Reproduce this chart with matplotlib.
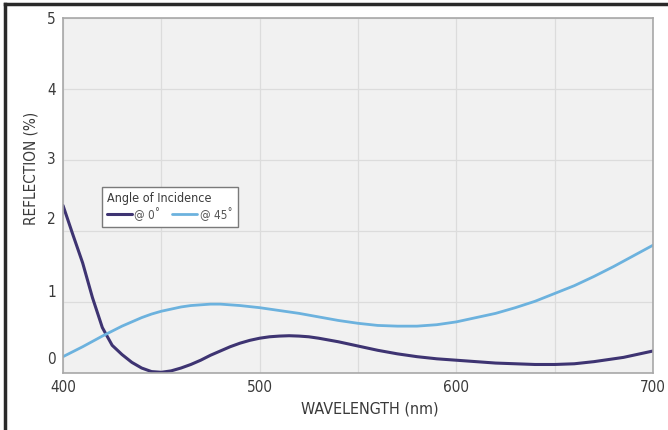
import numpy as np
import matplotlib
matplotlib.use("Agg")
import matplotlib.pyplot as plt
from matplotlib.lines import Line2D
import matplotlib.transforms as mtrans

wl=list(range(400,701,5))

r0=[2.36,1.95,1.55,1.06,0.64,0.39,0.26,0.15,0.07,0.02,
    0.01,0.03,0.07,0.12,0.18,0.25,0.31,0.37,0.42,0.46,
    0.49,0.51,0.52,0.525,0.52,0.51,0.49,0.465,0.44,0.41,
    0.38,0.35,0.32,0.295,0.27,0.25,0.23,0.215,0.20,0.19,
    0.18,0.17,0.16,0.15,0.14,0.135,0.13,0.125,0.12,0.12,
    0.12,0.125,0.13,0.145,0.16,0.18,0.20,0.22,0.25,0.28,0.31]
r45=[0.23,0.30,0.37,0.445,0.52,0.59,0.66,0.72,0.78,0.83,
     0.87,0.90,0.93,0.95,0.96,0.97,0.97,0.96,0.95,0.935,
     0.92,0.90,0.88,0.86,0.84,0.815,0.79,0.765,0.74,0.72,
     0.70,0.685,0.67,0.665,0.66,0.66,0.66,0.67,0.68,0.70,
     0.72,0.75,0.78,0.81,0.84,0.88,0.92,0.965,1.01,1.065,
     1.12,1.175,1.23,1.295,1.36,1.43,1.50,1.575,1.65,1.725,1.80]

xticks=[400,500,600,700]
yticks=[0,1,2,3,4,5]

plt.rcParams['font.family']=['DejaVu Sans']
plt.rcParams['font.stretch']='condensed'
txt="#3a3a3a"

fig=plt.figure(figsize=(6.68,4.3),dpi=100)
ax=fig.add_axes([63/668,1-373/430,590/668,355/430])
ax.set_facecolor("#f1f1f1")

ax.plot(wl,r0,color="#3e3472",lw=2.2,label="@ 0˚",solid_capstyle="round")
ax.plot(wl,r45,color="#6cb2de",lw=2,label="@ 45˚",solid_capstyle="round")

ax.set_xlim(400,700)
ax.set_ylim(0,5)
ax.set_xticks(xticks)
ax.set_yticks(yticks)
# minor grid at the half steps
ax.set_xticks([450,550,650],minor=True)
ax.grid(True,which="both",color="#dcdcdc",lw=0.9)
ax.set_axisbelow(True)
ax.tick_params(which="both",length=0,labelsize=11,colors=txt,pad=5)

# the low y labels sit a bit above their grid lines in the original
shift={0:15,1:11,2:13,3:2}
for v,lab in zip(yticks,ax.get_yticklabels()):
  if v in shift:
    lab.set_transform(lab.get_transform()+mtrans.ScaledTranslation(0,shift[v]/100,fig.dpi_scale_trans))

for s in ax.spines.values():
  s.set_color("#a8a8a8")
  s.set_linewidth(1.2)

ax.set_xlabel("WAVELENGTH (nm)",fontsize=11.5,color=txt)
ax.set_ylabel("REFLECTION (%)",fontsize=11,color=txt)
ax.xaxis.set_label_coords(307/590,-28/355)
ax.yaxis.set_label_coords(-24/590,205/355)

leg=ax.legend(title="Angle of Incidence",loc="upper left",bbox_to_anchor=(39/590,186/355),
  borderaxespad=0,ncol=2,fontsize=8.5,title_fontsize=9,frameon=True,fancybox=False,
  handlelength=2.1,handletextpad=0.2,columnspacing=1.0,borderpad=0.45,labelspacing=0.2)
leg._legend_box.align="left"
leg.get_frame().set_edgecolor("#7a7a7a")
leg.get_frame().set_facecolor("white")
leg.get_frame().set_linewidth(1)
leg.get_frame().set_alpha(1)
for t in leg.get_texts():t.set_color("#555555")
leg.get_title().set_color(txt)

# dark frame on top and left edge
fig.add_artist(Line2D([4.5/668,1],[1-4/430,1-4/430],color="#2a2a2a",lw=2.5))
fig.add_artist(Line2D([4.5/668,4.5/668],[0,1-4/430],color="#2a2a2a",lw=2.5))

plt.savefig("out.png",dpi=100)
